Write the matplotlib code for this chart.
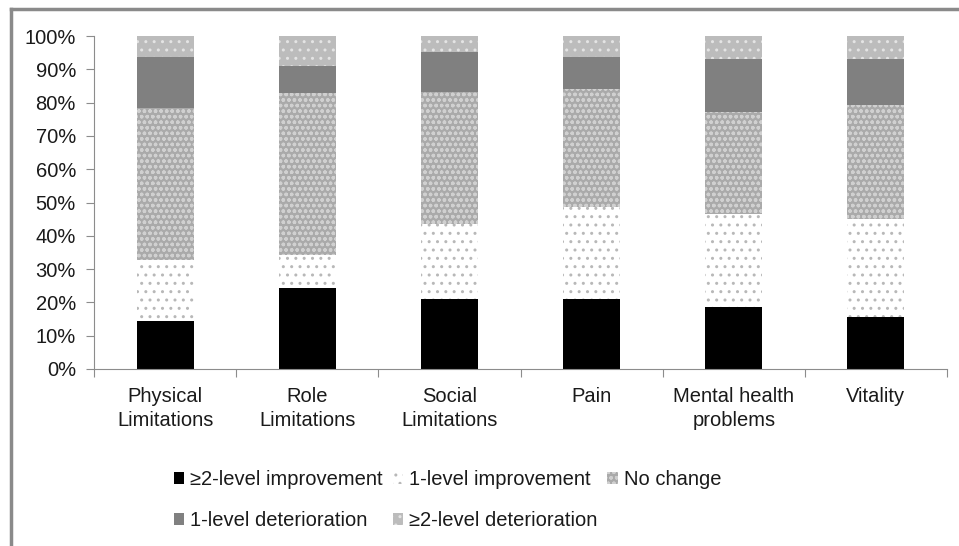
import matplotlib
matplotlib.use("Agg")
import matplotlib.pyplot as plt
from matplotlib.lines import Line2D
import numpy as np

plt.rcParams["font.family"] = ["Liberation Sans", "DejaVu Sans"]
plt.rcParams["hatch.linewidth"] = 1.0

categories = ["Physical\nLimitations", "Role\nLimitations", "Social\nLimitations",
              "Pain", "Mental health\nproblems", "Vitality"]
series_names = ["\u22652-level improvement", "1-level improvement", "No change",
                "1-level deterioration", "\u22652-level deterioration"]
impr2 = [14.4, 24.2, 20.9, 20.9, 18.5, 15.5]
impr1 = [18.3, 10.0, 22.6, 27.8, 28.0, 29.5]
no_change = [45.8, 48.6, 39.6, 35.4, 30.7, 34.3]
det1 = [15.1, 8.2, 12.0, 9.5, 15.8, 13.7]
det2 = [6.4, 9.0, 4.9, 6.4, 7.0, 7.0]
values = [impr2, impr1, no_change, det1, det2]

# fill, hatch, hatch colour
styles = [("black", None, "black"),
          ("white", "..", "#b8b8b8"),
          ("#aaaaaa", "ooo", "#d0d0d0"),
          ("#808080", None, "#808080"),
          ("#bcbcbc", "..", "#e4e4e4")]

fig = plt.figure(figsize=(9.59, 5.46), dpi=100)
ax = fig.add_axes([94 / 959, 1 - 369 / 546, (947 - 94) / 959, (369 - 36) / 546])

x = np.arange(len(categories))
bottom = np.zeros(len(categories))
handles = []
for vals, name, (fc, hatch, hc) in zip(values, series_names, styles):
    bars = ax.bar(x, vals, width=0.4, bottom=bottom, color=fc, hatch=hatch,
                  edgecolor=hc, linewidth=0, label=name)
    handles.append(bars)
    bottom += np.array(vals)

ax.set_xlim(-0.5, len(categories) - 0.5)
ax.set_ylim(0, 100)
ax.set_yticks(range(0, 101, 10))
ax.set_yticklabels([f"{v}%" for v in range(0, 101, 10)])
ax.set_xticks(np.arange(-0.5, len(categories), 1.0))
ax.set_xticklabels([])
ax.set_xticks(x, minor=True)
ax.set_xticklabels(categories, minor=True, linespacing=1.3)
ax.tick_params(axis="x", which="minor", length=0, pad=13, labelsize=14.5, labelcolor="#1a1a1a")
ax.tick_params(axis="x", which="major", length=6, color="#8c8c8c")
ax.tick_params(axis="y", length=6, color="#8c8c8c", labelsize=14.5, labelcolor="#1a1a1a", pad=7)

for s in ["top", "right"]:
    ax.spines[s].set_visible(False)
for s in ["left", "bottom"]:
    ax.spines[s].set_color("#8c8c8c")

order = [0, 3, 1, 4, 2]
leg = fig.legend([handles[i] for i in order], [series_names[i] for i in order],
                 ncol=3, loc="upper left", bbox_to_anchor=(156 / 959, 1 - 452 / 546),
                 frameon=False, fontsize=14.5, handlelength=0.5, handleheight=0.5,
                 handletextpad=0.3, columnspacing=0.5, labelspacing=1.1)
for t in leg.get_texts():
    t.set_color("#1a1a1a")

# outer border (top and left only visible)
fig.add_artist(Line2D([11 / 959, 11 / 959], [0, 1 - 9 / 546], transform=fig.transFigure,
                      color="#8a8a8a", linewidth=2.5))
fig.add_artist(Line2D([11 / 959, 1], [1 - 9 / 546, 1 - 9 / 546], transform=fig.transFigure,
                      color="#8a8a8a", linewidth=2.5))

fig.savefig("out.png", dpi=100)
